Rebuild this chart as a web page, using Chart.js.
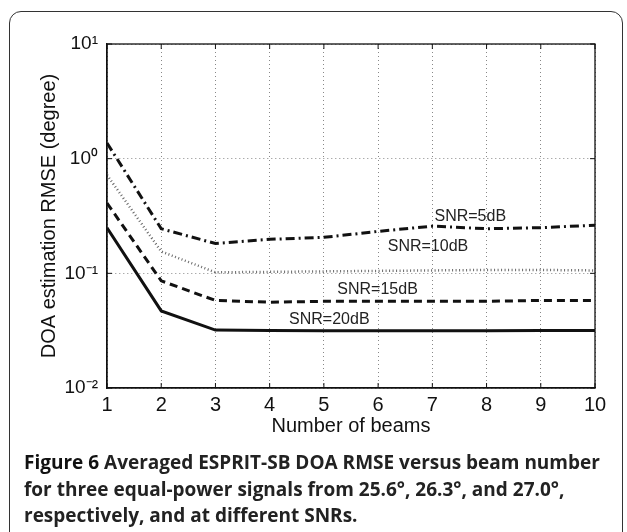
<!DOCTYPE html>
<html>
<head>
<meta charset="utf-8">
<script src="https://cdn.jsdelivr.net/npm/chart.js@4.4.1/dist/chart.umd.min.js"></script>
<style>
  html, body { margin:0; padding:0; background:#fff; }
  #wrap { position:relative; width:627px; height:532px; overflow:hidden; background:#fff; }
  #frame { position:absolute; left:9px; top:11px; width:614px; height:560px; border:1.5px solid #333; border-radius:12px; box-sizing:border-box; }
  canvas { position:absolute; left:0; top:0; }
  #caption { position:absolute; left:24px; top:449px; font-family:"Open Sans","Noto Sans",sans-serif; font-weight:700; font-size:19px; line-height:26.5px; color:#222; white-space:nowrap; }
</style>
</head>
<body>
<div id="wrap">
  <div id="frame"></div>
  <canvas id="c" width="627" height="532"></canvas>
  <div id="caption"><span style="color:#111">Figure 6</span> Averaged ESPRIT-SB DOA RMSE versus beam number<br>for three equal-power signals from 25.6°, 26.3°, and 27.0°,<br>respectively, and at different SNRs.</div>
</div>
<script>
// ---- data ----
const beams = [1, 2, 3, 4, 5, 6, 7, 8, 9, 10];
const snr5  = [1.37, 0.245, 0.182, 0.198, 0.206, 0.232, 0.258, 0.245, 0.25, 0.263];
const snr10 = [0.72, 0.155, 0.102, 0.103, 0.104, 0.105, 0.106, 0.107, 0.107, 0.106];
const snr15 = [0.41, 0.086, 0.058, 0.056, 0.057, 0.057, 0.057, 0.057, 0.058, 0.058];
const snr20 = [0.25, 0.047, 0.032, 0.0318, 0.0315, 0.0316, 0.0316, 0.0315, 0.0317, 0.0317];
const yTicks = [0.01, 0.1, 1, 10];
const yTickLabels = ['10\u207B\u00B2', '10\u207B\u00B9', '10\u2070', '10\u00B9'];
const noteText = ['SNR=5dB', 'SNR=10dB', 'SNR=15dB', 'SNR=20dB'];
const noteX = [7.7, 6.92, 5.99, 5.1];
const noteY = [0.312, 0.17, 0.0717, 0.0392];

const FONT = '"Liberation Sans", Arial, Helvetica, sans-serif';

function pts(ys) { return beams.map((b, i) => ({ x: b, y: ys[i] })); }

const framePlugin = {
  id: 'framePlugin',
  afterDraw(chart) {
    const { ctx, chartArea: a, scales } = chart;
    ctx.save();
    ctx.strokeStyle = '#111';
    ctx.lineWidth = 1.3;
    ctx.setLineDash([]);
    ctx.strokeRect(a.left, a.top, a.right - a.left, a.bottom - a.top);
    ctx.lineWidth = 1;
    beams.forEach(v => {
      const px = scales.x.getPixelForValue(v);
      ctx.beginPath();
      ctx.moveTo(px, a.bottom); ctx.lineTo(px, a.bottom - 5);
      ctx.moveTo(px, a.top); ctx.lineTo(px, a.top + 5);
      ctx.stroke();
    });
    yTicks.forEach(v => {
      const py = scales.y.getPixelForValue(v);
      ctx.beginPath();
      ctx.moveTo(a.left, py); ctx.lineTo(a.left + 5, py);
      ctx.moveTo(a.right, py); ctx.lineTo(a.right - 5, py);
      ctx.stroke();
    });
    ctx.fillStyle = '#222';
    ctx.font = '16px ' + FONT;
    ctx.textAlign = 'center';
    ctx.textBaseline = 'middle';
    noteText.forEach((t, i) => {
      ctx.fillText(t, scales.x.getPixelForValue(noteX[i]), scales.y.getPixelForValue(noteY[i]));
    });
    ctx.restore();
  }
};

new Chart(document.getElementById('c'), {
  type: 'line',
  data: {
    datasets: [
      { label: 'SNR=5dB', data: pts(snr5), borderColor: '#111', borderWidth: 3, borderDash: [9, 4, 2, 4], pointRadius: 0, tension: 0 },
      { label: 'SNR=10dB', data: pts(snr10), borderColor: '#666', borderWidth: 2.5, borderDash: [1, 2.5], pointRadius: 0, tension: 0 },
      { label: 'SNR=15dB', data: pts(snr15), borderColor: '#111', borderWidth: 3, borderDash: [8, 5], pointRadius: 0, tension: 0 },
      { label: 'SNR=20dB', data: pts(snr20), borderColor: '#111', borderWidth: 3, pointRadius: 0, tension: 0 }
    ]
  },
  options: {
    responsive: false,
    animation: false,
    layout: { padding: { left: 0, top: 44, right: 32, bottom: 0 } },
    plugins: { legend: { display: false }, tooltip: { enabled: false } },
    scales: {
      x: {
        type: 'linear', min: 1, max: 10,
        ticks: { stepSize: 1, color: '#111', font: { size: 20, family: FONT }, padding: 5 },
        grid: { drawTicks: false, color: '#888', lineWidth: 1 },
        border: { display: true, color: '#111', width: 1.3, dash: [1, 3] },
        title: { display: true, text: 'Number of beams', color: '#111', font: { size: 20, family: FONT }, padding: { top: 0, bottom: 94 } },
        afterFit(s) { s.height = 144; }
      },
      y: {
        type: 'logarithmic', min: 0.01, max: 10,
        afterBuildTicks(s) { s.ticks = yTicks.map(v => ({ value: v, major: true })); },
        ticks: {
          color: '#111', font: { size: 19, family: FONT }, padding: 9,
          callback(v) { const i = yTicks.indexOf(v); return i >= 0 ? yTickLabels[i] : ''; }
        },
        grid: { drawTicks: false, color: '#888', lineWidth: 1 },
        border: { display: true, color: '#111', width: 1.3, dash: [1, 3] },
        title: { display: true, text: 'DOA estimation RMSE (degree)', color: '#111', font: { size: 20, family: FONT }, padding: { top: 37, bottom: 0 } },
        afterFit(s) { s.width = 107; }
      }
    }
  },
  plugins: [framePlugin]
});
</script>
</body>
</html>
